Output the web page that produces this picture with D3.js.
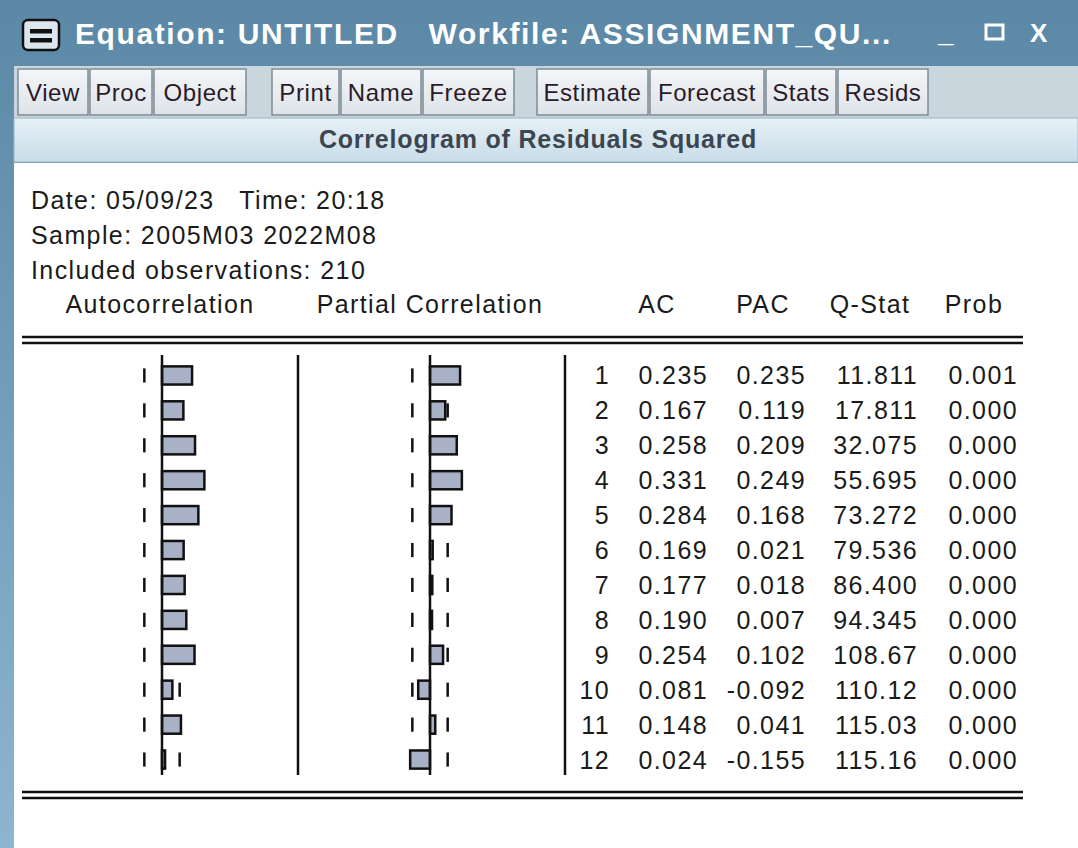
<!DOCTYPE html><html><head><meta charset="utf-8">
<script src="https://cdn.jsdelivr.net/npm/d3@7"></script>
<style>body{margin:0;background:#fff}svg{display:block}text{font-family:"Liberation Sans",Arial,sans-serif}</style></head><body>
<script>
const lags=[1,2,3,4,5,6,7,8,9,10,11,12];
const ac=[0.235,0.167,0.258,0.331,0.284,0.169,0.177,0.190,0.254,0.081,0.148,0.024];
const pac=[0.235,0.119,0.209,0.249,0.168,0.021,0.018,0.007,0.102,-0.092,0.041,-0.155];
const qstat=["11.811","17.811","32.075","55.695","73.272","79.536","86.400","94.345","108.67","110.12","115.03","115.16"];
const prob=["0.001","0.000","0.000","0.000","0.000","0.000","0.000","0.000","0.000","0.000","0.000","0.000"];
const nobs=210;
const buttons1=["View","Proc","Object"],buttons2=["Print","Name","Freeze"],buttons3=["Estimate","Forecast","Stats","Resids"];

const W=1078,H=848;
const svg=d3.select("body").append("svg").attr("width",W).attr("height",H);
const defs=svg.append("defs");
const g1=defs.append("linearGradient").attr("id","tb").attr("x1",0).attr("y1",0).attr("x2",0).attr("y2",1);
g1.append("stop").attr("offset",0).attr("stop-color","#5b88a6");g1.append("stop").attr("offset",1).attr("stop-color","#8db5cf");
const g2=defs.append("linearGradient").attr("id","bt").attr("x1",0).attr("y1",0).attr("x2",0).attr("y2",1);
g2.append("stop").attr("offset",0).attr("stop-color","#f4f6f8");g2.append("stop").attr("offset",1).attr("stop-color","#dde3e8");
const g3=defs.append("linearGradient").attr("id","sb").attr("x1",0).attr("y1",0).attr("x2",0).attr("y2",1);
g3.append("stop").attr("offset",0).attr("stop-color","#e6f0f6");g3.append("stop").attr("offset",1).attr("stop-color","#c8dce8");

svg.append("rect").attr("width",W).attr("height",H).attr("fill","url(#tb)");
svg.append("rect").attr("x",23).attr("y",20).attr("width",36).attr("height",30).attr("rx",5).attr("fill","#dde6ee").attr("stroke","#111").attr("stroke-width",2.5);
svg.append("rect").attr("x",30).attr("y",29).attr("width",22).attr("height",4.5).attr("fill","#111");
svg.append("rect").attr("x",30).attr("y",38).attr("width",22).attr("height",4.5).attr("fill","#111");
svg.append("text").attr("x",75).attr("y",44).attr("fill","#fff").attr("font-size",30).attr("font-weight","bold").attr("letter-spacing",1.6).attr("xml:space","preserve").text("Equation: UNTITLED   Workfile: ASSIGNMENT_QU...");
svg.append("text").attr("x",938).attr("y",42).attr("fill","#fff").attr("font-size",28).attr("font-weight","bold").text("_");
svg.append("rect").attr("x",986).attr("y",25).attr("width",17).attr("height",14).attr("fill","none").attr("stroke","#fff").attr("stroke-width",3);
svg.append("text").attr("x",1030).attr("y",42).attr("fill","#fff").attr("font-size",26).attr("font-weight","bold").text("X");
svg.append("rect").attr("x",14).attr("y",66).attr("width",1064).attr("height",52).attr("fill","#c9d6de");
const btnGroups=[[buttons1,18,[72,64,94]],[buttons2,272,[69,82,93]],[buttons3,537,[113,116,72,92]]];
btnGroups.forEach(([labels,x0,ws])=>{let x=x0;labels.forEach((l,i)=>{
 svg.append("rect").attr("x",x).attr("y",69).attr("width",ws[i]-2).attr("height",46).attr("fill","url(#bt)").attr("stroke","#7d8c96").attr("stroke-width",1.5);
 svg.append("text").attr("x",x+(ws[i]-2)/2).attr("y",101).attr("text-anchor","middle").attr("font-size",24).attr("letter-spacing",0.6).attr("fill","#2a1a2a").text(l);
 x+=ws[i];});});
svg.append("rect").attr("x",14).attr("y",118).attr("width",1064).attr("height",44).attr("fill","url(#sb)").attr("stroke","#9fb4c2");
svg.append("text").attr("x",538).attr("y",148).attr("text-anchor","middle").attr("font-size",25).attr("font-weight","bold").attr("letter-spacing",0.8).attr("fill","#3c4650").text("Correlogram of Residuals Squared");
svg.append("rect").attr("x",14).attr("y",163).attr("width",1064).attr("height",685).attr("fill","#fff");
const fs=25, tc="#1a1a1a", ls=1.4;
[["Date: 05/09/23   Time: 20:18",209],["Sample: 2005M03 2022M08",244],["Included observations: "+nobs,279]].forEach(([t,y])=>
 svg.append("text").attr("x",31).attr("y",y).attr("font-size",fs).attr("letter-spacing",ls).attr("fill",tc).attr("xml:space","preserve").text(t));
svg.append("text").attr("x",160).attr("y",313).attr("text-anchor","middle").attr("font-size",fs).attr("letter-spacing",ls).attr("fill",tc).text("Autocorrelation");
svg.append("text").attr("x",430).attr("y",313).attr("text-anchor","middle").attr("font-size",fs).attr("letter-spacing",ls).attr("fill",tc).text("Partial Correlation");
[[657,"AC"],[763,"PAC"],[870,"Q-Stat"],[974,"Prob"]].forEach(([x,t])=>svg.append("text").attr("x",x).attr("y",313).attr("text-anchor","middle").attr("font-size",fs).attr("letter-spacing",ls).attr("fill",tc).text(t));
[[337,343],[792,798]].forEach(ys=>ys.forEach(y=>svg.append("line").attr("x1",22).attr("x2",1023).attr("y1",y).attr("y2",y).attr("stroke","#111").attr("stroke-width",2.5)));

const y=d3.scaleBand().domain(lags).range([358,777]).paddingInner(0.48).paddingOuter(0.24);
const xs=d3.scaleLinear().domain([0,1]).range([0,128]);
const bound=2/Math.sqrt(nobs);
svg.append("line").attr("x1",298).attr("x2",298).attr("y1",355).attr("y2",775).attr("stroke","#111").attr("stroke-width",2.5);
svg.append("line").attr("x1",565).attr("x2",565).attr("y1",355).attr("y2",775).attr("stroke","#111").attr("stroke-width",2.5);
function panel(zero,vals){
 const g=svg.append("g");
 lags.forEach((l,i)=>{[-bound,bound].forEach(b=>g.append("line").attr("x1",zero+xs(b)).attr("x2",zero+xs(b)).attr("y1",y(l)+2).attr("y2",y(l)+y.bandwidth()-2).attr("stroke","#111").attr("stroke-width",2.5));});
 g.selectAll("rect").data(vals).join("rect")
  .attr("x",d=>zero+Math.min(0,xs(d))).attr("y",(d,i)=>y(lags[i])).attr("height",y.bandwidth())
  .attr("width",d=>Math.max(2,Math.abs(xs(d)))).attr("fill","#a9b1c6").attr("stroke","#111").attr("stroke-width",2.5);
 g.append("line").attr("x1",zero).attr("x2",zero).attr("y1",355).attr("y2",775).attr("stroke","#111").attr("stroke-width",2.5);
}
panel(162,ac);panel(430,pac);
lags.forEach((l,i)=>{
 const yy=y(l)+y.bandwidth()/2+9;
 [[610,l],[708,ac[i].toFixed(3)],[806,pac[i].toFixed(3)],[918,qstat[i]],[1018,prob[i]]].forEach(([x,t])=>
  svg.append("text").attr("x",x).attr("y",yy).attr("text-anchor","end").attr("font-size",fs).attr("letter-spacing",ls).attr("fill",tc).text(t));
});
</script></body></html>
